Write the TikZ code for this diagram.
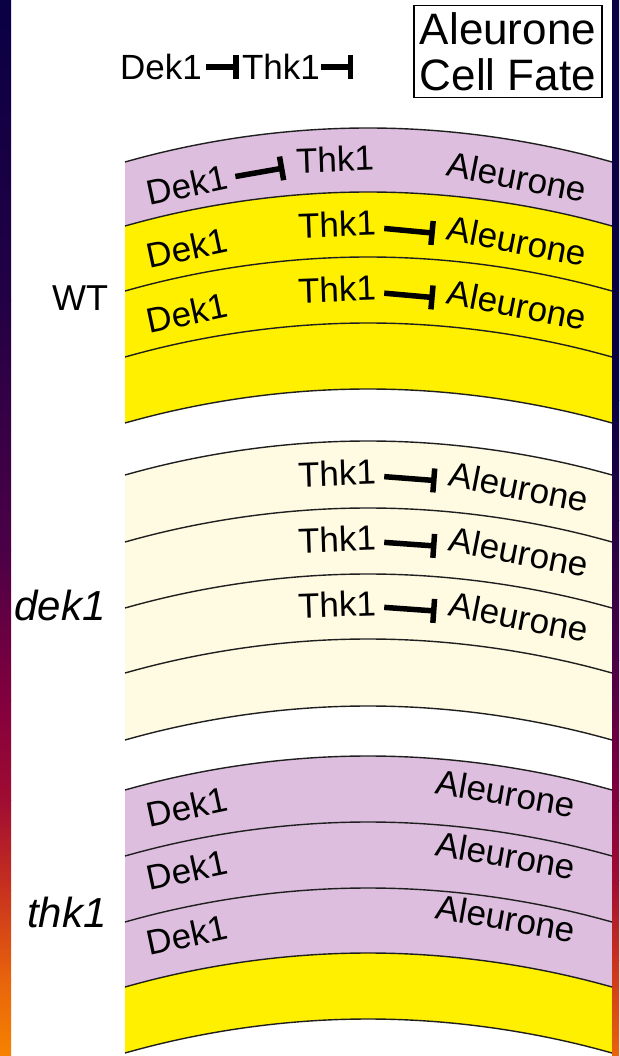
\documentclass[tikz,border=0pt]{standalone}
\usepackage{fontspec}
\setmainfont{Liberation Sans}
\usetikzlibrary{arrows.meta}
\definecolor{lav}{RGB}{221,190,222}
\definecolor{yel}{RGB}{255,240,0}
\definecolor{crm}{RGB}{255,250,226}
\definecolor{sA}{RGB}{10,0,68}
\definecolor{sB}{RGB}{35,0,68}
\definecolor{sC}{RGB}{75,0,70}
\definecolor{sD}{RGB}{130,0,62}
\definecolor{sE}{RGB}{160,12,50}
\definecolor{sF}{RGB}{200,50,30}
\definecolor{sG}{RGB}{232,100,12}
\definecolor{sH}{RGB}{246,130,0}
\newcommand\bandfill[3]{\fill[#1] (125,#2) parabola bend (368,#2-34) (612,#2) -- (612,#3) parabola bend (368,#3-34) (125,#3) -- cycle;}
\newcommand\arcln[1]{\draw[lay] (125,#1) parabola bend (368,#1-34) (612,#1);}
\begin{document}
\begin{tikzpicture}[x=1pt,y=-1pt,
  lay/.style={line width=1.4pt,draw=black!88},
  txt/.style={inner sep=0pt,font=\fontsize{35}{40}\selectfont},
  dk/.style={txt,rotate=12},
  tk/.style={txt,rotate=2},
  al/.style={txt,rotate=-11},
  side/.style={inner sep=0pt,font=\fontsize{36}{40}\selectfont},
  iside/.style={inner sep=0pt,font=\fontsize{42}{46}\selectfont\itshape},
  inh/.style={line width=5.5pt,-{Bar[width=24pt,line width=5.5pt]},shorten <=8pt,shorten >=12pt}]
\useasboundingbox (0,0) rectangle (619,1056);
\fill[white] (0,0) rectangle (619,1056);
% ---- bands ----
\bandfill{lav}{162}{226}
\bandfill{yel}{226}{423}
\bandfill{crm}{475}{740}
\bandfill{lav}{790}{987}
\bandfill{yel}{987}{1053}
\foreach \y in {162,226,291,357,423,475,542,608,673,740,790,856,922,987,1053}{\arcln{\y}}
% ---- top scheme ----
\node[txt] (dT) at (161,67) {Dek1};
\node[txt] (tT) at (281,67) {Thk1};
\node[draw,line width=1.2pt,inner xsep=6pt,inner ysep=6.5pt,align=center,
      font=\fontsize{44}{46}\selectfont] (fate) at (508,51.5) {Aleurone\\Cell Fate};
\draw[inh,shorten <=4pt,shorten >=3pt] (dT) -- (tT);
\draw[inh,shorten <=1pt,shorten >=60pt] (tT) -- (tT -| fate.west);
% ---- WT ----
\node[side] (wt) at (80,298) {WT};
\node[dk] (wD1) at (187,185) {Dek1};
\node[tk] (wT1) at (335,159) {Thk1};
\node[al] (wA1) at (517,177) {Aleurone};
\draw[inh] (wD1) -- (wT1);
\node[dk] (wD2) at (187,248) {Dek1};
\node[tk] (wT2) at (337,224) {Thk1};
\node[al] (wA2) at (517,241) {Aleurone};
\draw[inh] (wT2) -- (wA2);
\node[dk] (wD3) at (187,313) {Dek1};
\node[tk] (wT3) at (337,289) {Thk1};
\node[al] (wA3) at (517,305) {Aleurone};
\draw[inh] (wT3) -- (wA3);
% ---- dek1 ----
\node[iside] (dk1) at (60,605) {dek1};
\node[tk] (dT1) at (337,473) {Thk1};
\node[al] (dA1) at (519,487) {Aleurone};
\draw[inh] (dT1) -- (dA1);
\node[tk] (dT2) at (337,539) {Thk1};
\node[al] (dA2) at (519,552) {Aleurone};
\draw[inh] (dT2) -- (dA2);
\node[tk] (dT3) at (337,604) {Thk1};
\node[al] (dA3) at (519,617) {Aleurone};
\draw[inh] (dT3) -- (dA3);
% ---- thk1 ----
\node[iside] (tk1) at (67,912) {thk1};
\node[dk] (tD1) at (187,807) {Dek1};
\node[al,rotate=1] (tA1) at (506,793) {Aleurone};
\node[dk] (tD2) at (187,870) {Dek1};
\node[al,rotate=1] (tA2) at (506,855) {Aleurone};
\node[dk] (tD3) at (187,935) {Dek1};
\node[al,rotate=1] (tA3) at (506,918) {Aleurone};
% ---- side strips ----
\shade[top color=sA,bottom color=sB] (0,-0.5) rectangle (11,300.5);
\shade[top color=sB,bottom color=sC] (0,300) rectangle (11,550.5);
\shade[top color=sC,bottom color=sD] (0,550) rectangle (11,700.5);
\shade[top color=sD,bottom color=sE] (0,700) rectangle (11,800.5);
\shade[top color=sE,bottom color=sF] (0,800) rectangle (11,890.5);
\shade[top color=sF,bottom color=sG] (0,890) rectangle (11,980.5);
\shade[top color=sG,bottom color=sH] (0,980) rectangle (11,1056.5);
\shade[top color=sA,bottom color=sA] (612,-0.5) rectangle (619,400.5);
\shade[top color=sA,bottom color=sB] (612,400) rectangle (619,520.5);
\shade[top color=sB,bottom color=sC] (612,520) rectangle (619,660.5);
\shade[top color=sC,bottom color=sD] (612,660) rectangle (619,800.5);
\shade[top color=sD,bottom color=sE] (612,800) rectangle (619,880.5);
\shade[top color=sE,bottom color=sF] (612,880) rectangle (619,960.5);
\shade[top color=sF,bottom color=sG] (612,960) rectangle (619,1056.5);
\end{tikzpicture}
\end{document}
